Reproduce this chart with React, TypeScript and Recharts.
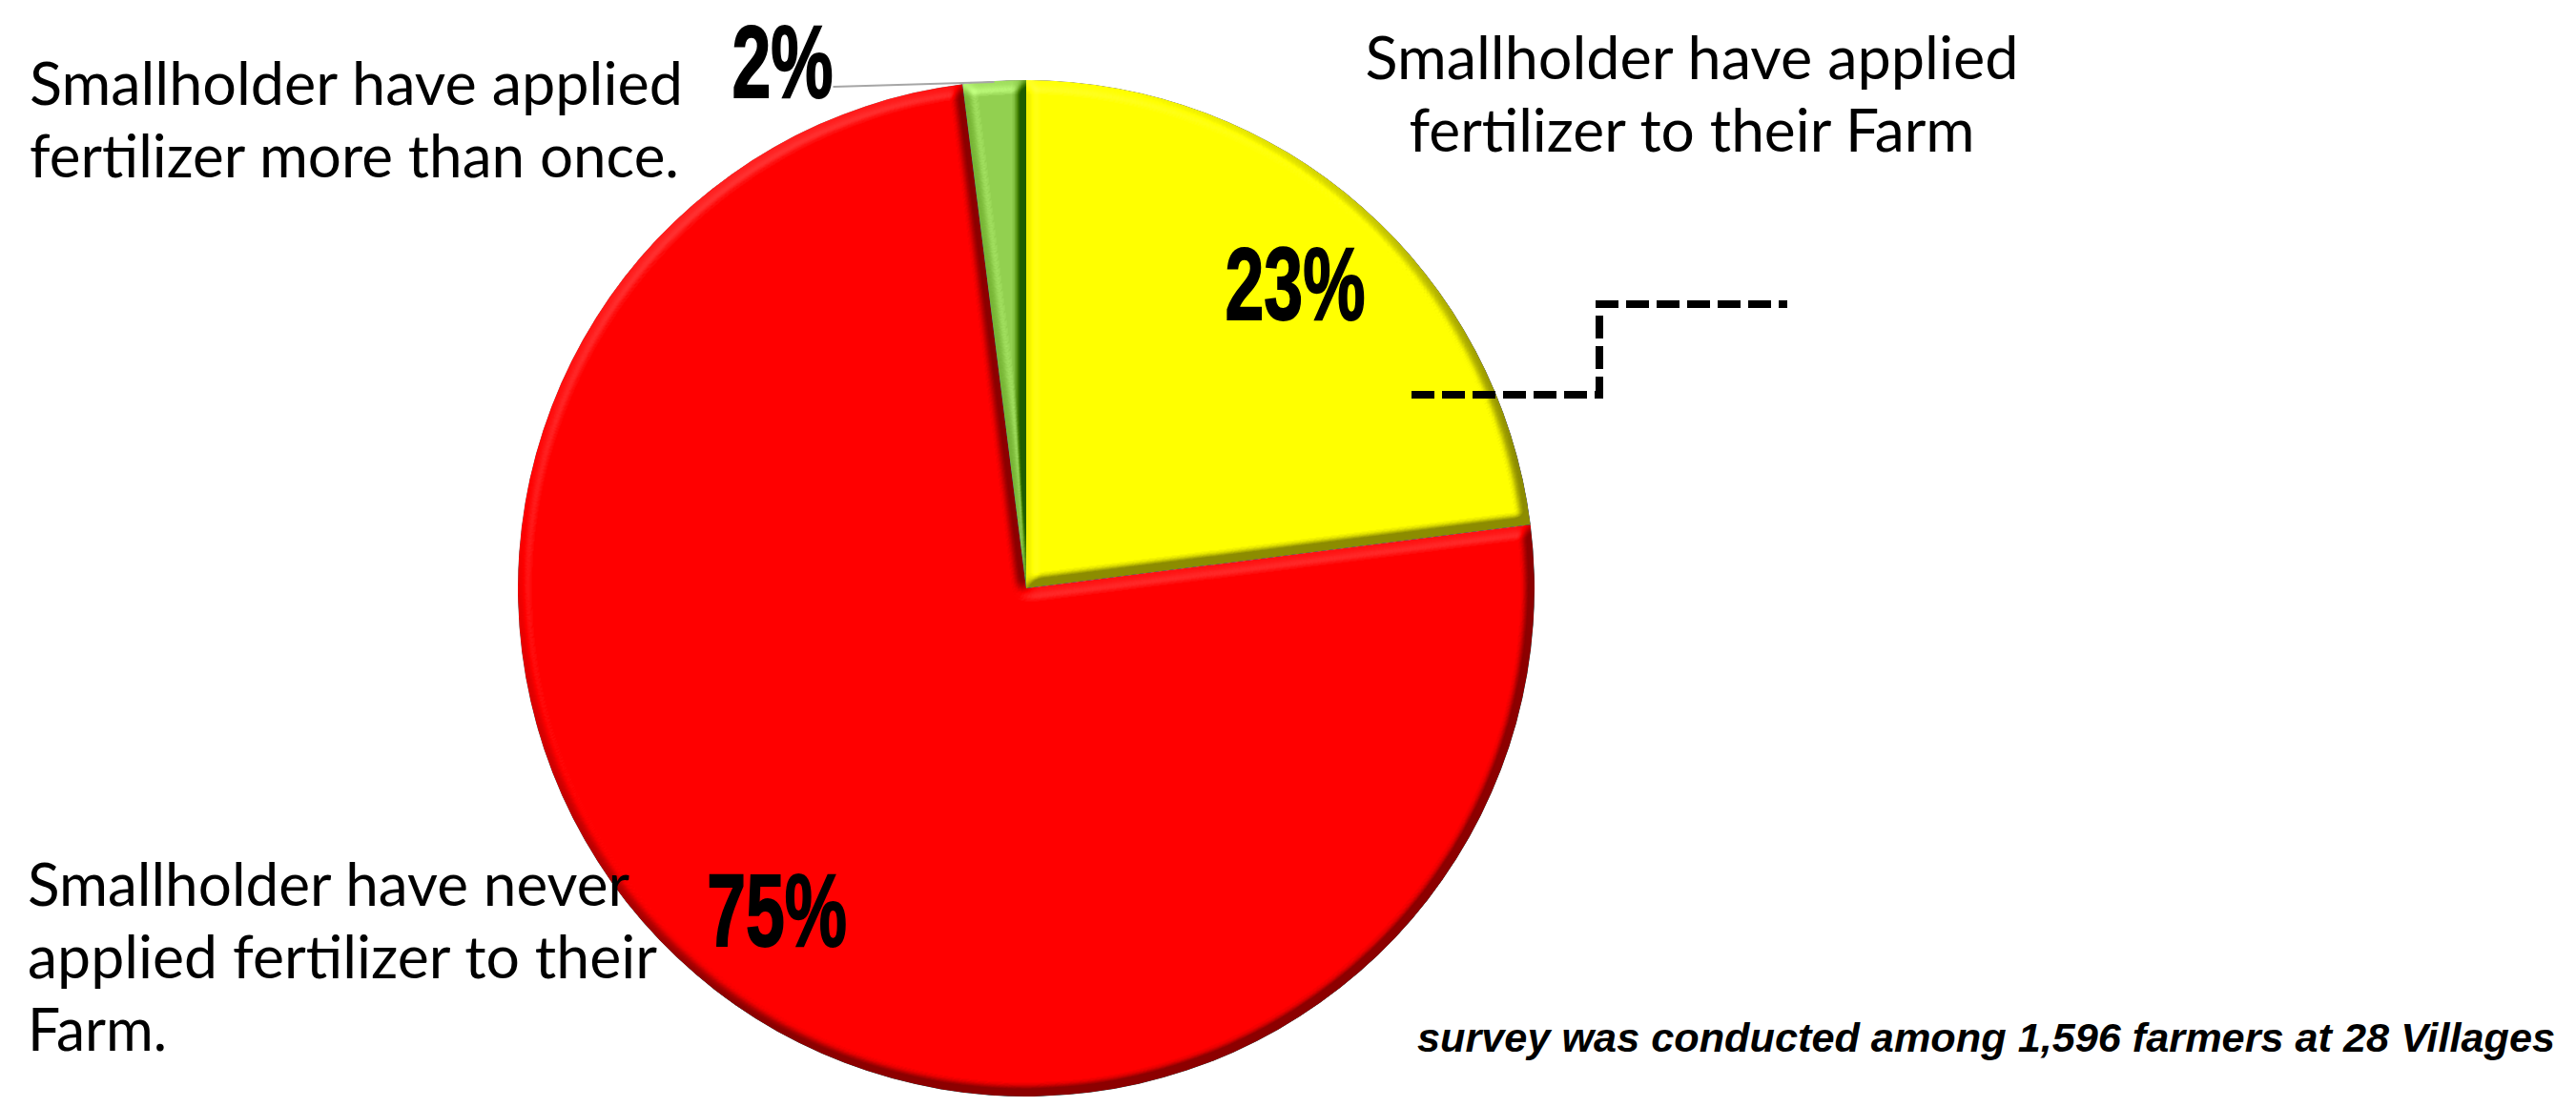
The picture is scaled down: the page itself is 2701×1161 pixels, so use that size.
import { Cell, Pie, PieChart } from "recharts";

const CATEGORIES = [
  "Smallholder have applied fertilizer to their Farm",
  "Smallholder have never applied fertilizer to their Farm.",
  "Smallholder have applied fertilizer more than once.",
];
const SHARES = [23, 75, 2];
const COLORS = ["#FFFF00", "#FF0000", "#92D050"];
const NOTE = "survey was conducted among 1,596 farmers at 28 Villages";

// category captions, broken as on the slide
const CAPTION_LINES = [
  ["Smallholder have applied", "fertilizer to their Farm"],
  ["Smallholder have never", "applied fertilizer to their", "Farm."],
  ["Smallholder have applied", "fertilizer more than once."],
];

const W = 2701;
const H = 1161;
const CX = 1076;
const CY = 617;
const R = 533;
const RAD = Math.PI / 180;

const CAPTIONS = [
  { x: 1774, y: 83, anchor: "middle", widths: [685, 593] },
  { x: 29, y: 950, anchor: "start", widths: [631, 660, 146] },
  { x: 31, y: 110, anchor: "start", widths: [685, 681] },
];

const pieData = SHARES.map((v, i) => ({ name: CATEGORIES[i], value: v }));

function PctText({ x, y, text }: { x: number; y: number; text: string }) {
  return (
    <text
      x={0}
      y={0}
      transform={`translate(${x},${y + 38}) scale(0.68,1)`}
      textAnchor="middle"
      fontFamily="Liberation Sans, Arial, sans-serif"
      fontWeight="bold"
      fontSize={108}
      stroke="#000"
      strokeWidth={2}
      fill="#000"
    >
      {text}
    </text>
  );
}

const renderPct = (props: any) => {
  const { cx, cy, midAngle, outerRadius, percent, index } = props;
  const pct = `${Math.round(percent * 100)}%`;
  if (percent < 0.05) {
    const ex = cx + outerRadius * Math.cos(-midAngle * RAD);
    const ey = cy + outerRadius * Math.sin(-midAngle * RAD);
    return (
      <g key={`lbl-${index}`}>
        <line x1={ex - 169} y1={ey + 6} x2={ex} y2={ey + 1} stroke="#a6a6a6" strokeWidth={2} />
        <PctText x={ex - 222} y={ey - 21} text={pct} />
      </g>
    );
  }
  const r = outerRadius * 0.8;
  const x = cx + r * Math.cos(-midAngle * RAD);
  const y = cy + r * Math.sin(-midAngle * RAD);
  return (
    <g key={`lbl-${index}`}>
      <PctText x={x} y={y} text={pct} />
    </g>
  );
};

export default function App() {
  return (
    <div style={{ position: "absolute", left: 0, top: 0, width: W, height: H, background: "#fff" }}>
      <svg width={0} height={0} style={{ position: "absolute" }}>
        <defs>
          <filter id="bevel" x="-10%" y="-10%" width="120%" height="120%" colorInterpolationFilters="sRGB">
            <feGaussianBlur in="SourceAlpha" stdDeviation="6" result="blur" />
            <feDiffuseLighting in="blur" surfaceScale="22" diffuseConstant="1.414" lightingColor="#808080" result="diff">
              <feDistantLight azimuth="235" elevation="45" />
            </feDiffuseLighting>
            <feComposite in="SourceGraphic" in2="diff" operator="arithmetic" k1="0" k2="1" k3="0.9" k4="-0.45" result="lit" />
            <feComposite in="lit" in2="SourceAlpha" operator="in" />
          </filter>
        </defs>
      </svg>
      <PieChart width={W} height={H} margin={{ top: 0, right: 0, bottom: 0, left: 0 }}>
        <Pie
          data={pieData}
          dataKey="value"
          nameKey="name"
          cx={CX}
          cy={CY}
          outerRadius={R}
          startAngle={90}
          endAngle={-270}
          stroke="none"
          labelLine={false}
          label={renderPct}
          isAnimationActive={false}
        >
          {pieData.map((entry, idx) => (
            <Cell key={entry.name} fill={COLORS[idx]} filter="url(#bevel)" />
          ))}
        </Pie>
      </PieChart>
      <svg
        width={W}
        height={H}
        style={{ position: "absolute", left: 0, top: 0, pointerEvents: "none" }}
      >
        {CAPTIONS.map((c, i) =>
          CAPTION_LINES[i].map((line, j) => (
            <text
              key={`${i}-${j}`}
              x={c.x}
              y={c.y + j * 76}
              textAnchor={c.anchor as any}
              fontFamily="Lato, sans-serif"
              fontSize={62}
              fill="#000"
              textLength={c.widths[j]}
              lengthAdjust="spacingAndGlyphs"
            >
              {line}
            </text>
          ))
        )}
        <path
          d="M1480 414 H1677 V319 H1874"
          fill="none"
          stroke="#000"
          strokeWidth={8}
          strokeDasharray="24 8"
        />
        <text
          x={1486}
          y={1103}
          fontFamily="Liberation Sans, Arial, sans-serif"
          fontWeight="bold"
          fontStyle="italic"
          fontSize={42}
          fill="#000"
          textLength={1193}
          lengthAdjust="spacingAndGlyphs"
        >
          {NOTE}
        </text>
      </svg>
    </div>
  );
}
